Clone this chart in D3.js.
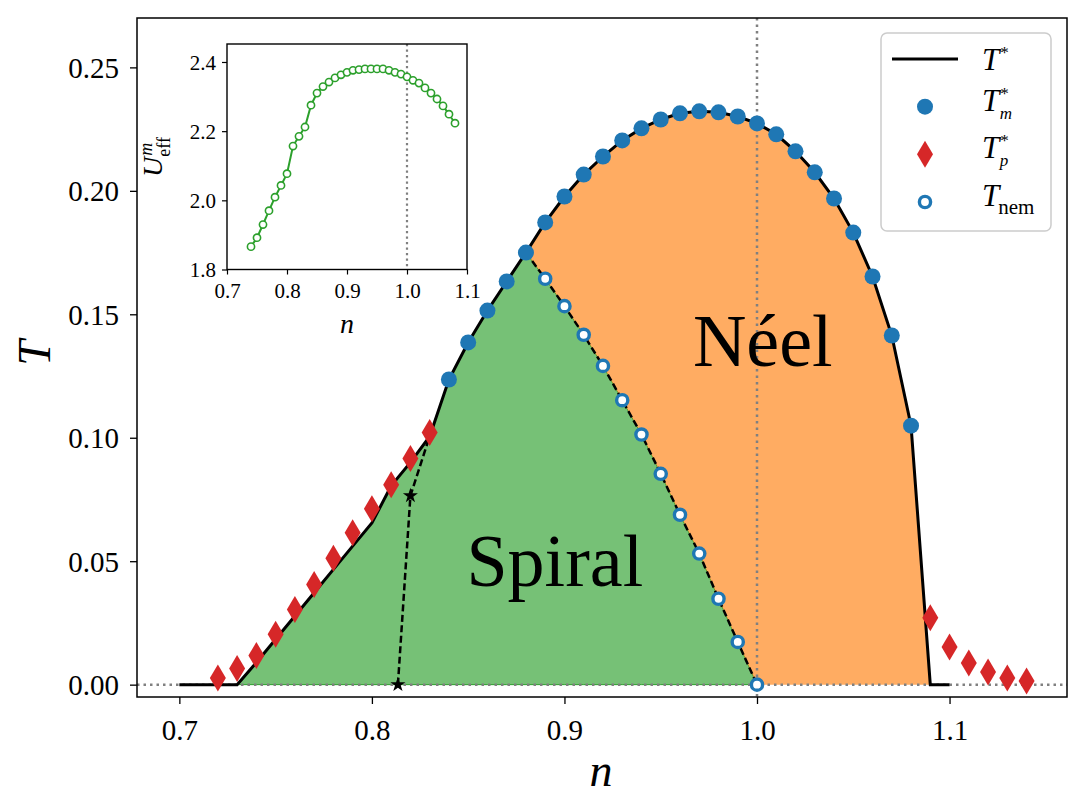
<!DOCTYPE html>
<html>
<head>
<meta charset="utf-8">
<script src="https://cdn.jsdelivr.net/npm/d3@7"></script>
<style>
  body { margin: 0; background: #fff; }
  svg text { font-family: "Liberation Serif", "DejaVu Serif", serif; }
</style>
</head>
<body>
<script>
// ---- data ----
// T* boundary (solid black line)
var nStar = [0.70, 0.73, 0.74, 0.75, 0.76, 0.77, 0.78, 0.79, 0.80, 0.81, 0.82, 0.83,
             0.84, 0.85, 0.86, 0.87, 0.88, 0.89, 0.90, 0.91, 0.92, 0.93, 0.94, 0.95,
             0.96, 0.97, 0.98, 0.99, 1.00, 1.01, 1.02, 1.03, 1.04, 1.05, 1.06, 1.07,
             1.08, 1.09, 1.10];
var tStar = [0, 0, 0.0090, 0.0184, 0.0278, 0.0372, 0.0467, 0.0561, 0.0655, 0.0805, 0.0900, 0.1005,
             0.1236, 0.1386, 0.1515, 0.1633, 0.1750, 0.1872, 0.1977, 0.2066, 0.2139, 0.2204, 0.2253, 0.2289,
             0.2314, 0.2322, 0.2318, 0.2301, 0.2273, 0.2229, 0.2160, 0.2075, 0.1969, 0.1831, 0.1653, 0.1414,
             0.1049, 0, 0];

// T*_m (filled blue circles)
var nM = [0.84, 0.85, 0.86, 0.87, 0.88, 0.89, 0.90, 0.91, 0.92, 0.93, 0.94, 0.95, 0.96,
          0.97, 0.98, 0.99, 1.00, 1.01, 1.02, 1.03, 1.04, 1.05, 1.06, 1.07, 1.08];
var tM = [0.1236, 0.1386, 0.1515, 0.1633, 0.1750, 0.1872, 0.1977, 0.2066, 0.2139, 0.2204, 0.2253, 0.2289, 0.2314,
          0.2322, 0.2318, 0.2301, 0.2273, 0.2229, 0.2160, 0.2075, 0.1969, 0.1831, 0.1653, 0.1414, 0.1049];

// T*_p (red diamonds)
var nP = [0.72, 0.73, 0.74, 0.75, 0.76, 0.77, 0.78, 0.79, 0.80, 0.81, 0.82, 0.83,
          1.09, 1.10, 1.11, 1.12, 1.13, 1.14];
var tP = [0.0027, 0.0065, 0.0118, 0.0204, 0.0304, 0.0406, 0.0512, 0.0615, 0.0712, 0.0810, 0.0916, 0.1021,
          0.0271, 0.0152, 0.0088, 0.0051, 0.0027, 0.0015];

// T_nem (open circles, dashed line)
var nNem = [0.88, 0.89, 0.90, 0.91, 0.92, 0.93, 0.94, 0.95, 0.96, 0.97, 0.98, 0.99, 1.00];
var tNem = [0.1750, 0.1644, 0.1533, 0.1417, 0.1291, 0.1152, 0.1013, 0.0854, 0.0688, 0.0531, 0.0348, 0.0173, 0];

// dashed branch with star markers
var nBranch = [0.8135, 0.82, 0.83];
var tBranch = [0, 0.0765, 0.1006];
var nStars = [0.8135, 0.82];
var tStars = [0, 0.0765];

// inset: U_eff^m vs n
var nU = [0.74, 0.75, 0.76, 0.77, 0.78, 0.79, 0.80, 0.81, 0.82, 0.83, 0.84, 0.85,
          0.86, 0.87, 0.88, 0.89, 0.90, 0.91, 0.92, 0.93, 0.94, 0.95, 0.96, 0.97,
          0.98, 0.99, 1.00, 1.01, 1.02, 1.03, 1.04, 1.05, 1.06, 1.07, 1.08];
var uEff = [1.866, 1.892, 1.930, 1.970, 2.009, 2.043, 2.077, 2.157, 2.185, 2.212, 2.275, 2.310,
            2.329, 2.342, 2.354, 2.363, 2.370, 2.376, 2.378, 2.380, 2.380, 2.380, 2.380, 2.376,
            2.370, 2.365, 2.357, 2.347, 2.339, 2.325, 2.310, 2.293, 2.273, 2.249, 2.223];

var xTicks = [0.7, 0.8, 0.9, 1.0, 1.1];
var yTicks = [0.00, 0.05, 0.10, 0.15, 0.20, 0.25];
var insetXTicks = [0.7, 0.8, 0.9, 1.0, 1.1];
var insetYTicks = [1.8, 2.0, 2.2, 2.4];

var legendNames = ["star", "m", "p", "nem"];

// ---- layout ----
var W = 1085, H = 811;
var box = { left: 137, top: 18, right: 1067, bottom: 697 };
var ibox = { left: 227, top: 44, right: 467, bottom: 269.5 };
var serif = "Liberation Serif";

var blue = "#1f77b4", red = "#d62728", green = "#2ca02c", orange = "#ff7f0e";

var svg = d3.select("body").append("svg")
    .attr("width", W).attr("height", H)
    .attr("font-family", serif);

var x = d3.scaleLinear().domain([0.678, 1.161]).range([box.left, box.right]);
var y = d3.scaleLinear().domain([-0.005, 0.27]).range([box.bottom, box.top]);

function zip(a, b) { return a.map(function (v, i) { return [v, b[i]]; }); }

var starPts = zip(nStar, tStar);
var nemPts = zip(nNem, tNem);

svg.append("clipPath").attr("id", "clipMain")
  .append("rect")
    .attr("x", box.left).attr("y", box.top)
    .attr("width", box.right - box.left).attr("height", box.bottom - box.top);

var plot = svg.append("g").attr("clip-path", "url(#clipMain)");

var line = d3.line().x(function (d) { return x(d[0]); }).y(function (d) { return y(d[1]); });

// green (spiral) region: under T* up to the peak, then under T_nem
var greenTop = starPts.filter(function (d) { return d[0] >= 0.73 && d[0] <= 0.88; })
    .concat(nemPts.filter(function (d) { return d[0] > 0.88; }));

plot.append("path")
    .datum(greenTop)
    .attr("d", d3.area().x(function (d) { return x(d[0]); })
        .y0(y(0)).y1(function (d) { return y(d[1]); }))
    .attr("fill", green).attr("fill-opacity", 0.65)
    .attr("stroke", green).attr("stroke-width", 1);

// orange (Neel) region: between T_nem and T*
var orangePoly = starPts.filter(function (d) { return d[0] >= 0.88 && d[0] <= 1.09; })
    .concat(nemPts.slice().reverse());

plot.append("path")
    .datum(orangePoly)
    .attr("d", function (d) { return line(d) + "Z"; })
    .attr("fill", orange).attr("fill-opacity", 0.65);

// reference lines
plot.append("line")
    .attr("x1", box.left).attr("x2", box.right).attr("y1", y(0)).attr("y2", y(0))
    .attr("stroke", "#808080").attr("stroke-width", 2.5).attr("stroke-dasharray", "2.5,4");
plot.append("line")
    .attr("x1", x(1.0)).attr("x2", x(1.0)).attr("y1", box.top).attr("y2", box.bottom)
    .attr("stroke", "#808080").attr("stroke-width", 2.5).attr("stroke-dasharray", "2.5,4");

plot.append("path").datum(starPts).attr("d", line)
    .attr("fill", "none").attr("stroke", "#000").attr("stroke-width", 3);

plot.append("path").datum(nemPts).attr("d", line)
    .attr("fill", "none").attr("stroke", "#000").attr("stroke-width", 2.5)
    .attr("stroke-dasharray", "7,3.5");

plot.append("path").datum(zip(nBranch, tBranch)).attr("d", line)
    .attr("fill", "none").attr("stroke", "#000").attr("stroke-width", 2.5)
    .attr("stroke-dasharray", "7,3.5");

plot.selectAll(".starmk").data(zip(nStars, tStars)).enter()
  .append("path")
    .attr("d", d3.symbol().type(d3.symbolStar).size(70))
    .attr("transform", function (d) { return "translate(" + x(d[0]) + "," + y(d[1]) + ")"; })
    .attr("fill", "#000");

// thin diamond marker like matplotlib 'd'
var diamond = "M0,-13.5L8,0L0,13.5L-8,0Z";

plot.selectAll(".tp").data(zip(nP, tP)).enter()
  .append("path")
    .attr("d", diamond)
    .attr("transform", function (d) { return "translate(" + x(d[0]) + "," + y(d[1]) + ")"; })
    .attr("fill", red);

plot.selectAll(".tnem").data(nemPts).enter()
  .append("circle")
    .attr("cx", function (d) { return x(d[0]); })
    .attr("cy", function (d) { return y(d[1]); })
    .attr("r", 5.6)
    .attr("fill", "#fff").attr("stroke", blue).attr("stroke-width", 3.4);

plot.selectAll(".tm").data(zip(nM, tM)).enter()
  .append("circle")
    .attr("cx", function (d) { return x(d[0]); })
    .attr("cy", function (d) { return y(d[1]); })
    .attr("r", 8)
    .attr("fill", blue);

// phase labels
svg.append("text").attr("x", x(0.895)).attr("y", y(0.04))
    .attr("text-anchor", "middle").attr("font-size", 74).text("Spiral");
svg.append("text").attr("x", x(1.003)).attr("y", y(0.129))
    .attr("text-anchor", "middle").attr("font-size", 74).text("Néel");

// ---- main axes ----
var xAxis = svg.append("g")
    .attr("transform", "translate(0," + box.bottom + ")")
    .call(d3.axisBottom(x).tickValues(xTicks).tickSize(7).tickPadding(10).tickFormat(d3.format(".1f")));
var yAxis = svg.append("g")
    .attr("transform", "translate(" + box.left + ",0)")
    .call(d3.axisLeft(y).tickValues(yTicks).tickSize(7).tickPadding(11).tickFormat(d3.format(".2f")));

[xAxis, yAxis].forEach(function (a) {
  a.attr("font-family", serif);
  a.select(".domain").remove();
  a.selectAll(".tick line").attr("stroke", "#000").attr("stroke-width", 1.3);
  a.selectAll(".tick text").attr("font-size", 29).attr("fill", "#000");
});
xAxis.selectAll(".tick text").attr("dy", "0.9em");
yAxis.selectAll(".tick text").attr("dy", "0.34em");

svg.append("rect")
    .attr("x", box.left).attr("y", box.top)
    .attr("width", box.right - box.left).attr("height", box.bottom - box.top)
    .attr("fill", "none").attr("stroke", "#000").attr("stroke-width", 1.5);

svg.append("text").attr("x", 601).attr("y", 786)
    .attr("text-anchor", "middle").attr("font-size", 46).attr("font-style", "italic").text("n");
svg.append("text")
    .attr("transform", "translate(50,353) rotate(-90)")
    .attr("text-anchor", "middle").attr("font-size", 46).attr("font-style", "italic").text("T");

// ---- legend ----
var leg = svg.append("g");
leg.append("rect")
    .attr("x", 881).attr("y", 33).attr("width", 170).attr("height", 198).attr("rx", 6)
    .attr("fill", "#fff").attr("fill-opacity", 0.8)
    .attr("stroke", "#cccccc").attr("stroke-width", 1.5);

var rowY = d3.scalePoint().domain(legendNames).range([59, 202]);

leg.append("line")
    .attr("x1", 892).attr("x2", 958).attr("y1", rowY("star")).attr("y2", rowY("star"))
    .attr("stroke", "#000").attr("stroke-width", 3);
leg.append("circle").attr("cx", 925).attr("cy", rowY("m")).attr("r", 8).attr("fill", blue);
leg.append("path").attr("d", diamond)
    .attr("transform", "translate(925," + rowY("p") + ")").attr("fill", red);
leg.append("circle").attr("cx", 925).attr("cy", rowY("nem")).attr("r", 5.6)
    .attr("fill", "#fff").attr("stroke", blue).attr("stroke-width", 3.4);

// T with optional super- and subscript, one text element with tspans
function mathT(g, x0, base, sup, sub, subItalic) {
  var t = g.append("text").attr("x", x0).attr("y", base).attr("font-size", 31);
  t.append("tspan").attr("font-style", "italic").text("T");
  if (sup) {
    t.append("tspan").attr("font-size", 17).attr("dx", 1).attr("dy", -12).text(sup);
  }
  if (sub) {
    t.append("tspan").attr("font-size", sup ? 17 : 21)
        .attr("font-style", subItalic ? "italic" : "normal")
        .attr("dx", sup ? -9 : -1).attr("dy", sup ? 20 : 8).text(sub);
  }
}
mathT(leg, 982, rowY("star") + 11, "*", null);
mathT(leg, 982, rowY("m") + 4, "*", "m", true);
mathT(leg, 982, rowY("p") + 4, "*", "p", true);
mathT(leg, 982, rowY("nem") + 4, null, "nem", false);

// ---- inset ----
var xi = d3.scaleLinear().domain([0.7, 1.1]).range([ibox.left, ibox.right]);
var yi = d3.scaleLinear().domain([1.8, 2.452]).range([ibox.bottom, ibox.top]);

var inset = svg.append("g");
inset.append("rect")
    .attr("x", ibox.left).attr("y", ibox.top)
    .attr("width", ibox.right - ibox.left).attr("height", ibox.bottom - ibox.top)
    .attr("fill", "#fff");

inset.append("line")
    .attr("x1", xi(1.0)).attr("x2", xi(1.0)).attr("y1", ibox.top).attr("y2", ibox.bottom)
    .attr("stroke", "#808080").attr("stroke-width", 2.2).attr("stroke-dasharray", "2.2,3.3");

var uPts = zip(nU, uEff);
inset.append("path").datum(uPts)
    .attr("d", d3.line().x(function (d) { return xi(d[0]); }).y(function (d) { return yi(d[1]); }))
    .attr("fill", "none").attr("stroke", green).attr("stroke-width", 2);
inset.selectAll(".u").data(uPts).enter()
  .append("circle")
    .attr("cx", function (d) { return xi(d[0]); })
    .attr("cy", function (d) { return yi(d[1]); })
    .attr("r", 3.6)
    .attr("fill", "#fff").attr("stroke", green).attr("stroke-width", 1.6);

var xiAxis = inset.append("g")
    .attr("transform", "translate(0," + ibox.bottom + ")")
    .call(d3.axisBottom(xi).tickValues(insetXTicks).tickSize(5).tickPadding(6).tickFormat(d3.format(".1f")));
var yiAxis = inset.append("g")
    .attr("transform", "translate(" + ibox.left + ",0)")
    .call(d3.axisLeft(yi).tickValues(insetYTicks).tickSize(5).tickPadding(6).tickFormat(d3.format(".1f")));
[xiAxis, yiAxis].forEach(function (a) {
  a.attr("font-family", serif);
  a.select(".domain").remove();
  a.selectAll(".tick line").attr("stroke", "#000").attr("stroke-width", 1.2);
  a.selectAll(".tick text").attr("font-size", 21).attr("fill", "#000");
});
xiAxis.selectAll(".tick text").attr("dy", "0.85em");
yiAxis.selectAll(".tick text").attr("dy", "0.34em");

inset.append("rect")
    .attr("x", ibox.left).attr("y", ibox.top)
    .attr("width", ibox.right - ibox.left).attr("height", ibox.bottom - ibox.top)
    .attr("fill", "none").attr("stroke", "#000").attr("stroke-width", 1.4);

inset.append("text").attr("x", 347).attr("y", 333)
    .attr("text-anchor", "middle").attr("font-size", 28).attr("font-style", "italic").text("n");

var ulab = inset.append("text").attr("transform", "translate(162,177) rotate(-90)")
    .attr("font-size", 28);
ulab.append("tspan").attr("font-style", "italic").text("U");
ulab.append("tspan").attr("font-size", 18).attr("font-style", "italic").attr("dx", 1).attr("dy", -10).text("m");
ulab.append("tspan").attr("font-size", 18).attr("dx", -14).attr("dy", 18).text("eff");
</script>
</body>
</html>
